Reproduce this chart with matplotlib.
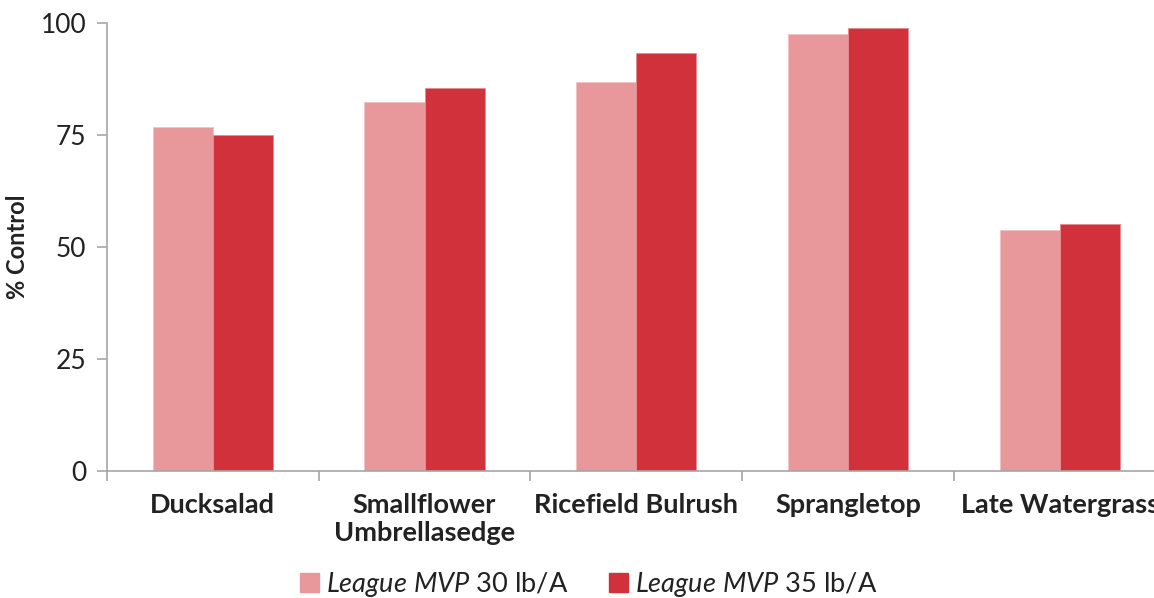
import numpy as np
import matplotlib.pyplot as plt
from matplotlib.patches import Patch

plt.rcParams['font.family'] = ['Lato', 'DejaVu Sans']
plt.rcParams['mathtext.fontset'] = 'custom'
plt.rcParams['mathtext.it'] = 'Lato:italic'
plt.rcParams['mathtext.rm'] = 'Lato'

categories = ["Ducksalad", "Smallflower\nUmbrellasedge", "Ricefield Bulrush",
              "Sprangletop", "Late Watergrass"]
mvp_30 = [76.8, 82.3, 86.8, 97.5, 53.8]
mvp_35 = [75.0, 85.5, 93.4, 98.8, 55.1]
yticks = [0, 25, 50, 75, 100]

c30 = "#E8979A"
c35 = "#D0313B"
axis_grey = "#A6A6A6"

fig = plt.figure(figsize=(11.54, 5.98), dpi=100)
ax = fig.add_axes([107 / 1154, 127 / 598, 1058.5 / 1154, 448 / 598])

x = np.arange(len(categories))
w = 0.284
ax.bar(x - w / 2, mvp_30, w, color=c30, edgecolor="#F2C2C4", linewidth=0.6)
ax.bar(x + w / 2, mvp_35, w, color=c35, edgecolor="#E88A90", linewidth=0.6)

ax.set_xlim(-0.5, len(categories) - 0.5)
ax.set_ylim(0, 100)
ax.set_yticks(yticks)
ax.set_yticklabels([str(v) for v in yticks], fontsize=19, color="#222222")
ax.set_xticks(x)
ax.set_xticklabels(categories, fontsize=19.5, fontweight="bold", color="#222222",
                   linespacing=1.2)
ax.set_xticks(np.arange(-0.5, len(categories)), minor=True)
ax.tick_params(axis="x", which="major", length=0, pad=16)
ax.tick_params(axis="x", which="minor", length=7, color=axis_grey, width=1.2)
ax.tick_params(axis="y", length=7, color=axis_grey, width=1.2, pad=8)
for s in ["top", "right"]:
    ax.spines[s].set_visible(False)
for s in ["left", "bottom"]:
    ax.spines[s].set_color(axis_grey)
    ax.spines[s].set_linewidth(1.2)

ax.set_ylabel("% Control", fontsize=17, fontweight="bold", color="#222222", labelpad=8)

handles = [Patch(color=c30), Patch(color=c35)]
labels = [r"$\it{League\ MVP}$ 30 lb/A", r"$\it{League\ MVP}$ 35 lb/A"]
fig.legend(handles, labels, loc="lower center", bbox_to_anchor=(0.51, -0.043), ncol=2,
           frameon=False, fontsize=19.5, handlelength=0.7, handleheight=0.7,
           handletextpad=0.25, columnspacing=1.5, labelcolor="#222222")

fig.savefig("out.png", dpi=100)
